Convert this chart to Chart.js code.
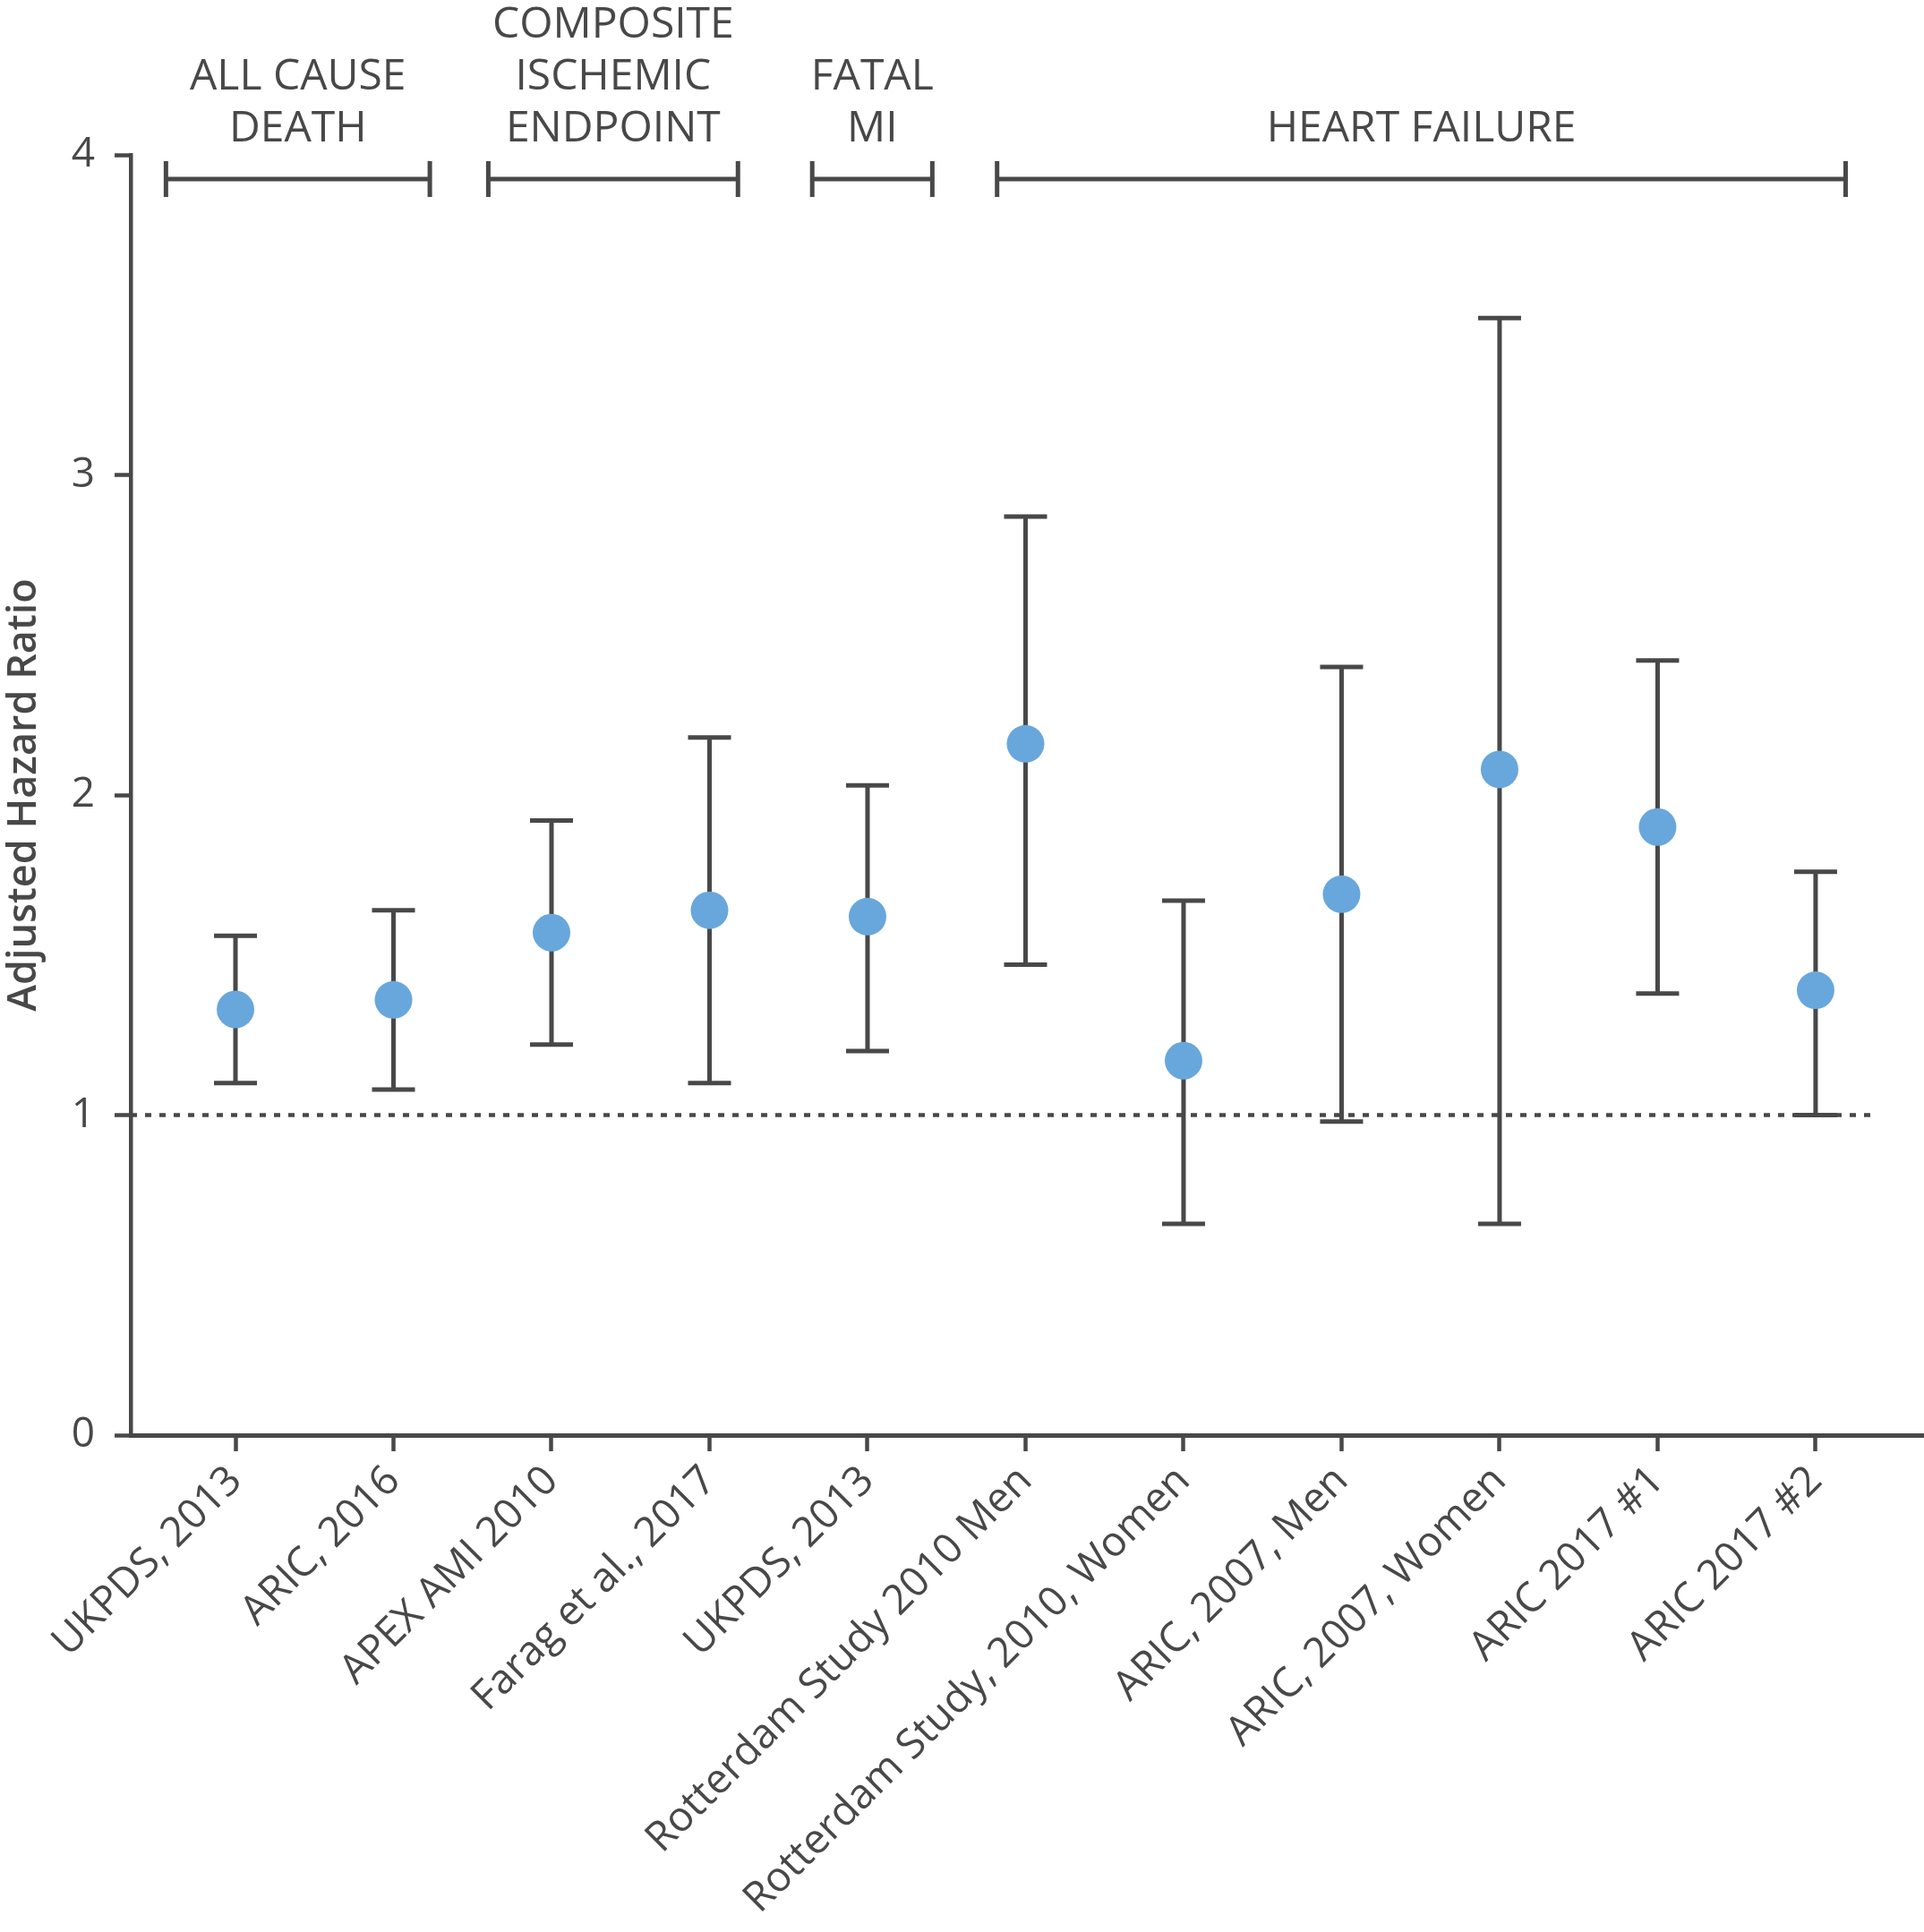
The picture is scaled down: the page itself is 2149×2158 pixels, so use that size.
<!DOCTYPE html>
<html>
<head>
<meta charset="utf-8">
<script src="https://cdn.jsdelivr.net/npm/chart.js@4.4.0/dist/chart.umd.min.js"></script>
<style>
  html, body { margin: 0; padding: 0; background: #fff; overflow: hidden; }
  canvas { display: block; }
</style>
</head>
<body>
<canvas id="myChart" width="2149" height="2158"></canvas>
<script>
// values
var studies = ["UKPDS, 2013", "ARIC, 2016", "APEX AMI 2010", "Farag et al., 2017", "UKPDS, 2013",
  "Rotterdam Study 2010 Men", "Rotterdam Study, 2010, Women", "ARIC, 2007, Men", "ARIC, 2007, Women",
  "ARIC 2017 #1", "ARIC 2017 #2"];
var hazard = [1.33, 1.36, 1.57, 1.64, 1.62, 2.16, 1.17, 1.69, 2.08, 1.90, 1.39];
var lower  = [1.10, 1.08, 1.22, 1.10, 1.20, 1.47, 0.66, 0.98, 0.66, 1.38, 1.00];
var upper  = [1.56, 1.64, 1.92, 2.18, 2.03, 2.87, 1.67, 2.40, 3.49, 2.42, 1.76];
var yTicks = [0, 1, 2, 3, 4];

// outcome groups over the studies (span in category units)
var groupNames = [["ALL CAUSE", "DEATH"], ["COMPOSITE", "ISCHEMIC", "ENDPOINT"], ["FATAL", "MI"], ["HEART FAILURE"]];
var groupFrom = [-0.44, 1.6, 3.65, 4.82];
var groupTo   = [1.23, 3.18, 4.41, 10.19];
var refValue = 1;

var grey = '#484848';
var blue = '#68a7dc';
var fontName = "'Open Sans', 'Noto Sans', sans-serif";

var errorBars = {
  id: 'errorBars',
  beforeDatasetsDraw: function(chart) {
    var ctx = chart.ctx;
    var xs = chart.scales.x, ys = chart.scales.y;
    ctx.save();

    // dotted reference line at HR = 1
    ctx.strokeStyle = grey;
    ctx.lineWidth = 4.5;
    ctx.setLineDash([7, 9]);
    ctx.beginPath();
    ctx.moveTo(chart.chartArea.left, ys.getPixelForValue(refValue));
    ctx.lineTo(xs.getPixelForValue(10.38), ys.getPixelForValue(refValue));
    ctx.stroke();
    ctx.setLineDash([]);

    ctx.lineWidth = 5;
    for (var i = 0; i < hazard.length; i++) {
      var x = xs.getPixelForValue(i);
      var yl = ys.getPixelForValue(lower[i]);
      var yh = ys.getPixelForValue(upper[i]);
      ctx.beginPath();
      ctx.moveTo(x, yl); ctx.lineTo(x, yh);
      ctx.moveTo(x - 24, yl); ctx.lineTo(x + 24, yl);
      ctx.moveTo(x - 24, yh); ctx.lineTo(x + 24, yh);
      ctx.stroke();
    }
    ctx.restore();
  }
};

var groupBrackets = {
  id: 'groupBrackets',
  afterDraw: function(chart) {
    var ctx = chart.ctx;
    var xs = chart.scales.x;
    var by = chart.chartArea.top + 27;
    ctx.save();
    ctx.strokeStyle = grey;
    ctx.fillStyle = grey;
    ctx.lineWidth = 5;
    ctx.font = "48px " + fontName;
    ctx.textAlign = 'center';
    ctx.textBaseline = 'alphabetic';
    for (var g = 0; g < groupNames.length; g++) {
      var x1 = xs.getPixelForValue(groupFrom[g]);
      var x2 = xs.getPixelForValue(groupTo[g]);
      ctx.beginPath();
      ctx.moveTo(x1, by); ctx.lineTo(x2, by);
      ctx.moveTo(x1, by - 20); ctx.lineTo(x1, by + 20);
      ctx.moveTo(x2, by - 20); ctx.lineTo(x2, by + 20);
      ctx.stroke();
      var lines = groupNames[g];
      for (var k = 0; k < lines.length; k++) {
        var base = by - 42 - (lines.length - 1 - k) * 58;
        ctx.fillText(lines[k], (x1 + x2) / 2, base);
      }
    }
    ctx.restore();
  }
};

var points = [];
for (var i = 0; i < hazard.length; i++) {
  points.push({ x: i, y: hazard[i] });
}

var canvas = document.getElementById("myChart");
var chart = new Chart(canvas.getContext('2d'), {
  type: 'scatter',
  data: {
    datasets: [{
      data: points,
      backgroundColor: blue,
      borderWidth: 0,
      pointRadius: 21,
      pointHoverRadius: 21
    }]
  },
  options: {
    responsive: false,
    animation: false,
    devicePixelRatio: 1,
    layout: { autoPadding: false, padding: { top: 173, left: 0, right: 0, bottom: 0 } },
    plugins: { legend: { display: false }, tooltip: { enabled: false } },
    scales: {
      x: {
        type: 'linear',
        min: -0.663,
        max: 10.686,
        afterBuildTicks: function(s) {
          s.ticks = studies.map(function(n, i) { return { value: i }; });
        },
        afterFit: function(s) {
          s.height = 555;
          s.paddingLeft = 0;
          s.paddingRight = 0;
        },
        ticks: {
          autoSkip: false,
          minRotation: 45,
          maxRotation: 45,
          padding: 6,
          color: grey,
          font: { family: fontName, size: 46 },
          callback: function(v, idx) { return studies[idx]; }
        },
        grid: { drawOnChartArea: false, tickLength: 18, tickWidth: 4.5, color: grey },
        border: { color: grey, width: 5 }
      },
      y: {
        min: 0,
        max: 4,
        afterBuildTicks: function(s) {
          s.ticks = yTicks.map(function(v) { return { value: v }; });
        },
        afterFit: function(s) { s.width = 146; },
        ticks: {
          padding: 22,
          color: grey,
          font: { family: fontName, size: 46 }
        },
        grid: { drawOnChartArea: false, tickLength: 18, tickWidth: 4.5, color: grey },
        border: { color: grey, width: 4.5 },
        title: {
          display: true,
          text: 'Adjusted Hazard Ratio',
          color: grey,
          padding: 0,
          font: { family: fontName, size: 45, weight: '600' }
        }
      }
    }
  },
  plugins: [errorBars, groupBrackets]
});
</script>
</body>
</html>
